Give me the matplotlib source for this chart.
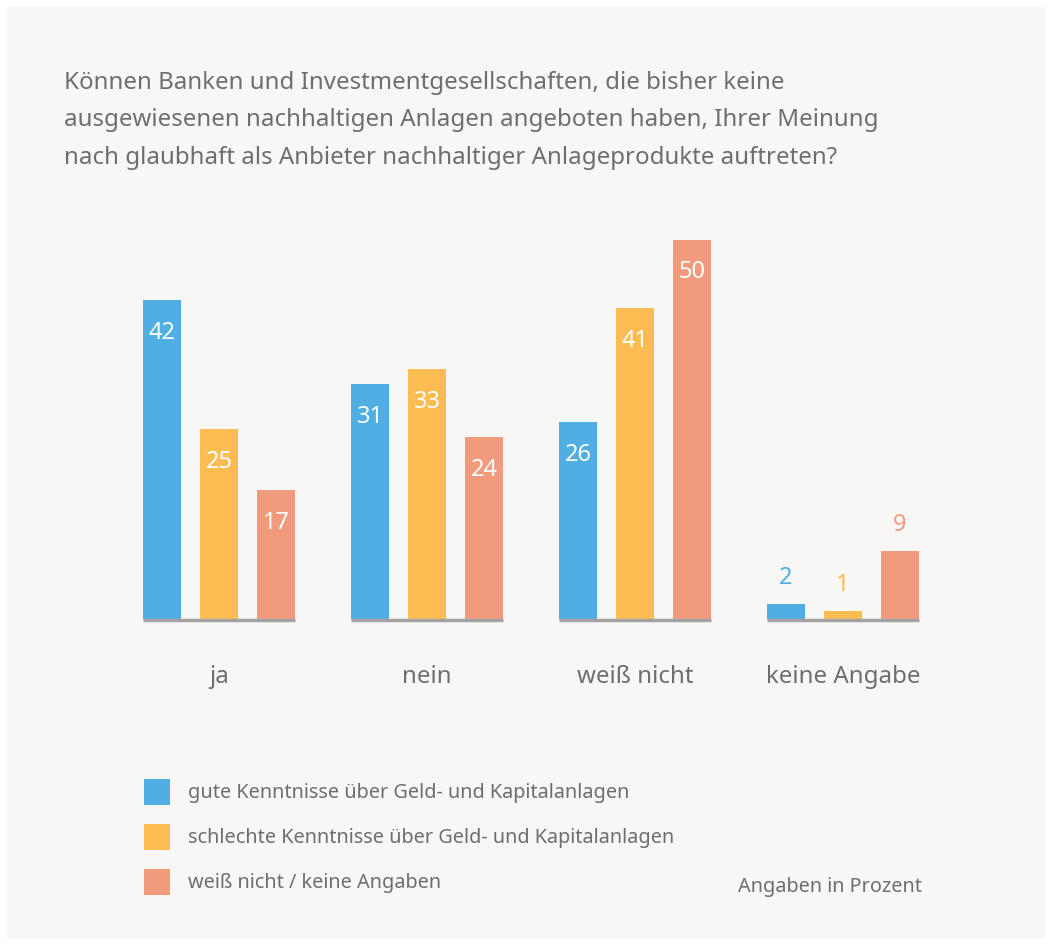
import numpy as np
import matplotlib
matplotlib.use("Agg")
import matplotlib.pyplot as plt
from matplotlib.patches import Rectangle

plt.rcParams['font.family'] = ['Noto Sans', 'DejaVu Sans']

# Daten (Angaben in Prozent)
kategorien = ["ja", "nein", "weiß nicht", "keine Angabe"]
gute = [42, 31, 26, 2]
schlechte = [25, 33, 41, 1]
weiss_nicht = [17, 24, 50, 9]
serien_namen = ["gute Kenntnisse über Geld- und Kapitalanlagen",
                "schlechte Kenntnisse über Geld- und Kapitalanlagen",
                "weiß nicht / keine Angaben"]
farben = ["#50aee2", "#fbbc52", "#f29a7c"]
titel = ["Können Banken und Investmentgesellschaften, die bisher keine",
         "ausgewiesenen nachhaltigen Anlagen angeboten haben, Ihrer Meinung",
         "nach glaubhaft als Anbieter nachhaltiger Anlageprodukte auftreten?"]

W, H = 1049, 945
grau = "#6e6e6e"

fig = plt.figure(figsize=(W / 100, H / 100), dpi=100, facecolor="white")
# Hintergrund-Panel
fig.patches.append(Rectangle((7 / W, 5 / H), 1038 / W, 932 / H, transform=fig.transFigure,
                             facecolor="#f8f7f5", edgecolor="none", zorder=-5))

# Achse: Gruppenabstand 208 px, Balkenabstand 57 px, Balkenbreite 38 px
px_per_unit = 7.59
left_px, right_px = 120, 940
base_px, top_px = 620, 200
ax = fig.add_axes([left_px / W, (H - base_px) / H, (right_px - left_px) / W, (base_px - top_px) / H])
ax.set_zorder(2)
ax.set_facecolor("none")
ax.set_xlim((left_px - 219) / 208, (right_px - 219) / 208)
ax.set_ylim(0, (base_px - top_px) / px_per_unit)
for s in ax.spines.values():
    s.set_visible(False)
ax.set_xticks([])
ax.set_yticks([])

x = np.arange(len(kategorien))
pitch = 57 / 208
breite = 38 / 208
for k, (werte, farbe) in enumerate(zip([gute, schlechte, weiss_nicht], farben)):
    pos = x + (k - 1) * pitch
    ax.bar(pos, werte, width=breite, color=farbe, zorder=2)
    for xp, v in zip(pos, werte):
        if v >= 10:
            ax.annotate(str(v), (xp, v), xytext=(0, -32), textcoords="offset pixels",
                        ha="center", va="center", color="white", fontsize=17)
        else:
            ax.annotate(str(v), (xp, v), xytext=(0, 27), textcoords="offset pixels",
                        ha="center", va="center", color=farbe, fontsize=17)

# Grundlinien je Gruppe
halb = pitch + breite / 2
ax.hlines(np.zeros(len(x)) - 0.1, x - halb, x + halb, color="#a3a3a3", lw=2.5, zorder=3, clip_on=False)

# Kategorien
for xi, name in zip(x, kategorien):
    ax.annotate(name, (xi, 0), xytext=(0, -57), textcoords="offset pixels",
                ha="center", va="center", color=grau, fontsize=17.3)

# Titel
for i, zeile in enumerate(titel):
    fig.text(64 / W, 1 - (83 + 37.5 * i) / H, zeile, ha="left", va="center", color=grau, fontsize=17.3)

# Legende
for i, (name, farbe) in enumerate(zip(serien_namen, farben)):
    yc = 793 + 45 * i
    fig.patches.append(Rectangle((144 / W, 1 - (yc + 13) / H), 26 / W, 26 / H, transform=fig.transFigure,
                                 facecolor=farbe, edgecolor="none"))
    fig.text(188 / W, 1 - yc / H, name, ha="left", va="center", color=grau, fontsize=14.3)

fig.text(922 / W, 1 - 887 / H, "Angaben in Prozent", ha="right", va="center", color=grau, fontsize=14.3)

fig.savefig("out.png", dpi=100, facecolor="white")
